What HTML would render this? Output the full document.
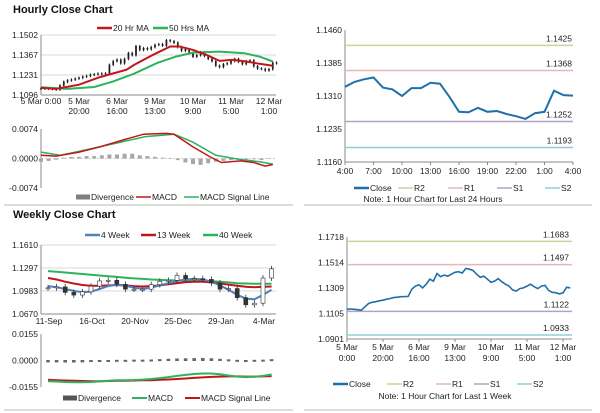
<!DOCTYPE html>
<html><head><meta charset="utf-8">
<style>
html,body{margin:0;padding:0;background:#fff;}
svg{display:block;font-family:"Liberation Sans",Arial,sans-serif;}
.t{font-size:8.5px;fill:#222;}
.ttl{font-size:11px;font-weight:bold;fill:#111;}
</style></head>
<body>
<svg id="c" width="600" height="413" viewBox="0 0 600 413" xmlns="http://www.w3.org/2000/svg">
<text x="13" y="13" class="ttl">Hourly Close Chart</text>
<text x="13" y="218" class="ttl">Weekly Close Chart</text>
<line x1="4" y1="205" x2="293" y2="205" stroke="#bbb"/>
<line x1="304" y1="205" x2="592" y2="205" stroke="#bbb"/>
<line x1="4" y1="410" x2="293" y2="410" stroke="#bbb"/>
<line x1="304" y1="410" x2="592" y2="410" stroke="#bbb"/>
</svg>
<script>
// ---- hourly week data (2-hour steps, hour index 0..124) ----
const weekHourStep = 2;
const weekClose = [1.1140,1.1141,1.1139,1.1136,1.1132,1.1160,1.1185,1.1195,1.1200,1.1207,1.1212,1.1220,1.1225,1.1233,1.1236,1.1240,1.1241,1.1242,1.1300,1.1325,1.1335,1.1310,1.1340,1.1380,1.1365,1.1426,1.1400,1.1413,1.1405,1.1420,1.1435,1.1440,1.1430,1.1466,1.1460,1.1450,1.1420,1.1395,1.1405,1.1380,1.1355,1.1365,1.1385,1.1360,1.1340,1.1325,1.1294,1.1285,1.1305,1.1310,1.1325,1.1340,1.1320,1.1305,1.1325,1.1330,1.1290,1.1275,1.1272,1.1262,1.1270,1.1315,1.1310];
const weekTickHours = [0,20,40,60,80,100,120];
const weekTickLabels = [["5 Mar","0:00"],["5 Mar","20:00"],["6 Mar","16:00"],["9 Mar","13:00"],["10 Mar","9:00"],["11 Mar","5:00"],["12 Mar","1:00"]];
const ma20Hours = [0,8,20,31,45,49,59,68,73,80,87,94,101,108,115,122];
const ma20Vals = [1.1144,1.1137,1.1166,1.1217,1.1267,1.1300,1.1368,1.1424,1.1424,1.1401,1.1368,1.1327,1.1334,1.1323,1.1307,1.1294];
const ma50Hours = [0,14,28,38,49,61,71,80,94,107,115,122];
const ma50Vals = [1.1148,1.1137,1.1150,1.1188,1.1240,1.1312,1.1356,1.1383,1.1390,1.1379,1.1356,1.1323];
const macdHours = [0,8,20,31,45,54,66,70,80,89,95,105,112,118,122];
const macdVals = [0.0008,0.0006,0.0016,0.0029,0.0049,0.0061,0.0063,0.0061,0.0029,0.0004,-0.0010,-0.0006,-0.0010,-0.0019,-0.0015];
const sigHours = [0,10,24,40,55,70,80,92,104,115,122];
const sigVals = [0.0016,0.0008,0.0022,0.0039,0.0055,0.0061,0.0041,0.0008,-0.0002,-0.0008,-0.0014];
const divHours = [0,4,8,12,16,20,24,28,32,36,40,44,48,52,56,60,64,68,72,76,80,84,88,92,96,100,104,108,112,116,120];
const divVals = [-0.0008,-0.0006,-0.0003,0.0002,0.0004,0.0004,0.0006,0.0006,0.0008,0.0010,0.0010,0.0012,0.0012,0.0008,0.0006,0.0004,0.0002,0.0000,-0.0004,-0.0010,-0.0014,-0.0016,-0.0012,-0.0008,-0.0006,-0.0004,-0.0003,-0.0002,-0.0002,-0.0004,-0.0001];
const hourTicks = [1.1502,1.1367,1.1231,1.1096];
const hourMacdTicks = [0.0074,0.0000,-0.0074];

// ---- last 24h ----
const dayClose = [1.1331,1.1342,1.1348,1.1352,1.1329,1.1325,1.1310,1.1328,1.1328,1.1340,1.1338,1.1308,1.1274,1.1273,1.1283,1.1274,1.1276,1.1269,1.1264,1.1258,1.1271,1.1274,1.1322,1.1312,1.1311];
const dayTickLabels = ["4:00","7:00","10:00","13:00","16:00","19:00","22:00","1:00","4:00"];
const dayTicks = [1.1460,1.1385,1.1310,1.1235,1.1160];
const dayLevels = [1.1425,1.1368,1.1252,1.1193];
const weekLevels = [1.1683,1.1497,1.1122,1.0933];
const weekTicks = [1.1718,1.1514,1.1309,1.1105,1.0901];
const levelNames = ["R2","R1","S1","S2"];

// ---- weekly ----
const wkLabels = ["11-Sep","16-Oct","20-Nov","25-Dec","29-Jan","4-Mar"];
const wkLabelIdx = [0,5,10,15,20,25];
const wkClose = [1.1026,1.1040,1.0964,1.0928,1.0973,1.1049,1.1120,1.1129,1.1075,1.1008,1.1008,1.1008,1.1070,1.1116,1.1129,1.1196,1.1151,1.1151,1.1142,1.1093,1.1008,1.1017,1.0893,1.0795,1.0817,1.1160,1.1285];
const wk4 = [1.1050,1.1035,1.1010,1.0985,1.0965,1.0975,1.1010,1.1050,1.1070,1.1055,1.1030,1.1010,1.1030,1.1060,1.1090,1.1120,1.1140,1.1150,1.1140,1.1110,1.1060,1.1000,1.0930,1.0880,1.0870,1.0930,1.1000];
const wk13 = [1.1160,1.1140,1.1110,1.1085,1.1065,1.1055,1.1055,1.1060,1.1065,1.1060,1.1050,1.1045,1.1050,1.1060,1.1075,1.1090,1.1105,1.1110,1.1110,1.1100,1.1085,1.1070,1.1055,1.1040,1.1035,1.1040,1.1045];
const wk40 = [1.1255,1.1245,1.1235,1.1225,1.1215,1.1205,1.1195,1.1185,1.1175,1.1165,1.1155,1.1148,1.1140,1.1135,1.1130,1.1128,1.1125,1.1122,1.1120,1.1118,1.1110,1.1100,1.1090,1.1085,1.1082,1.1082,1.1082];
const wkMacd = [-0.0121,-0.0123,-0.0126,-0.0127,-0.0127,-0.0126,-0.0122,-0.0118,-0.0116,-0.0115,-0.0114,-0.0112,-0.0108,-0.0103,-0.0097,-0.0090,-0.0084,-0.0079,-0.0076,-0.0076,-0.0080,-0.0088,-0.0094,-0.0097,-0.0095,-0.0090,-0.0082];
const wkSig = [-0.0113,-0.0115,-0.0117,-0.0119,-0.0120,-0.0121,-0.0121,-0.0120,-0.0119,-0.0118,-0.0117,-0.0116,-0.0115,-0.0113,-0.0111,-0.0108,-0.0105,-0.0102,-0.0099,-0.0096,-0.0094,-0.0093,-0.0093,-0.0094,-0.0094,-0.0093,-0.0091];
const wkDiv = [-0.0008,-0.0008,-0.0009,-0.0009,-0.0008,-0.0006,-0.0003,-0.0001,0.0001,0.0001,0.0002,0.0002,0.0003,0.0005,0.0007,0.0009,0.0010,0.0011,0.0012,0.0010,0.0007,0.0004,0.0001,-0.0001,0.0001,0.0002,0.0005];
const wkTicks = [1.1610,1.1297,1.0983,1.0670];
const wkMacdTicks = [0.0155,0.0000,-0.0155];

const svg = document.getElementById('c');
const NS = 'http://www.w3.org/2000/svg';
function mk(tag, attrs, name, parent){
  const e = document.createElementNS(NS, tag);
  for (const k in attrs) e.setAttribute(k, attrs[k]);
  
  
  (parent||svg).appendChild(e);
  return e;
}
function txt(x,y,s,anchor,name,size){
  const e = mk('text',{x:x,y:y,'text-anchor':anchor||'start',class:'t'},name);
  if(size) e.setAttribute('font-size', size);
  e.textContent = s; return e;
}
function path(pts){ return pts.map((p,i)=>(i?'L':'M')+p[0].toFixed(1)+','+p[1].toFixed(1)).join(''); }
function legendLine(x,y,color,label,w,name){
  mk('line',{x1:x,y1:y,x2:x+15,y2:y,stroke:color,'stroke-width':w||2.5},name+'-swatch');
  txt(x+16,y+3,label,'start',name);
}
function legendBox(x,y,color,label,name){
  mk('rect',{x:x,y:y-2.5,width:14,height:5,fill:color},name+'-swatch');
  txt(x+15,y+3,label,'start',name);
}
const lvlColors = ["#c3d69b","#e6b9b8","#b3a2c7","#93cddd"];

// ================= Panel 1: hourly price =================
(function(){
  const L=41,R=276,T=35,B=95, vmax=1.1502, vmin=1.1096;
  const x = h => L + h*1.9;
  const y = v => T + (vmax-v)/(vmax-vmin)*(B-T);
  hourTicks.forEach((t,i)=>{
    mk('line',{x1:L,y1:y(t),x2:R,y2:y(t),stroke:'#d9d9d9','stroke-width':1},'gridline-'+i);
    txt(L-3,y(t)+3,t.toFixed(4),'end','y-tick-label');
  });
  mk('line',{x1:L,y1:T,x2:L,y2:B,stroke:'#888'},'y-axis');
  mk('line',{x1:L,y1:B,x2:R,y2:B,stroke:'#888'},'x-axis');
  weekTickHours.forEach((h,i)=>{
    const lb=weekTickLabels[i];
    if(i===0){ txt(x(h),104,lb[0]+' '+lb[1],'middle','x-tick-label'); }
    else { txt(x(h),104,lb[0],'middle','x-tick-label'); txt(x(h),114,lb[1],'middle','x-tick-label'); }
  });
  const g = mk('g',{},'candles');
  weekClose.forEach((c,i)=>{
    const o = i? weekClose[i-1] : c;
    const xx = x(i*weekHourStep);
    const hi = Math.max(o,c)+0.0009, lo = Math.min(o,c)-0.0009;
    mk('line',{x1:xx,y1:y(hi),x2:xx,y2:y(lo),stroke:'#111','stroke-width':0.9},'candle-wick',g);
    mk('rect',{x:xx-0.7,y:y(Math.max(o,c)),width:1.4,height:Math.max(0.8,Math.abs(y(o)-y(c))),fill:'#222',stroke:'#111','stroke-width':0.3},'candle-body',g);
  });
  mk('path',{d:path(ma50Hours.map((h,i)=>[x(h),y(ma50Vals[i])])),fill:'none',stroke:'#2db35d','stroke-width':2},'ma-50-line');
  mk('path',{d:path(ma20Hours.map((h,i)=>[x(h),y(ma20Vals[i])])),fill:'none',stroke:'#c0161c','stroke-width':2},'ma-20-line');
  legendLine(97,28,'#c0161c','20 Hr MA',2.5,'legend-20hr-ma');
  legendLine(153,28,'#2db35d','50 Hrs MA',2.5,'legend-50hr-ma');
})();

// ================= Panel 1b: hourly MACD =================
(function(){
  const L=41,R=276,T=129,B=188, vmax=0.0074;
  const x = h => L + h*1.9;
  const y = v => 158.5 - v/vmax*29.5;
  hourMacdTicks.forEach(t=>txt(L-3,y(t)+3,t.toFixed(4),'end','macd-y-tick'));
  mk('line',{x1:L,y1:T,x2:L,y2:B,stroke:'#888'},'macd-y-axis');
  mk('line',{x1:L,y1:y(0),x2:R,y2:y(0),stroke:'#ccc','stroke-dasharray':'2,2'},'macd-zero-line');
  const g = mk('g',{},'divergence-bars');
  divHours.forEach((h,i)=>{
    const v=divVals[i];
    mk('rect',{x:x(h)-2,y:Math.min(y(0),y(v)),width:4,height:Math.max(0.5,Math.abs(y(v)-y(0))),fill:'#a6a6a6'},'divergence-bar',g);
  });
  mk('path',{d:path(sigHours.map((h,i)=>[x(h),y(sigVals[i])])),fill:'none',stroke:'#2db35d','stroke-width':1.5},'macd-signal-line');
  mk('path',{d:path(macdHours.map((h,i)=>[x(h),y(macdVals[i])])),fill:'none',stroke:'#c0161c','stroke-width':1.5},'macd-line');
  legendBox(76,197,'#7f7f7f','Divergence','legend-divergence');
  legendLine(136,197,'#c0161c','MACD',1.5,'legend-macd');
  legendLine(184,197,'#2db35d','MACD Signal Line',1.5,'legend-macd-signal');
})();

// ================= Panel 2: last 24h =================
(function(){
  const L=345,R=573,T=30,B=162, vmax=1.1460, vmin=1.1160;
  const x = i => L + i*(R-L)/24;
  const y = v => T + (vmax-v)/(vmax-vmin)*(B-T);
  dayTicks.forEach(t=>txt(L-3,y(t)+3,t.toFixed(4),'end','day-y-tick'));
  mk('line',{x1:L,y1:T,x2:L,y2:B,stroke:'#888'},'day-y-axis');
  mk('line',{x1:L,y1:B,x2:R,y2:B,stroke:'#888'},'day-x-axis');
  dayTickLabels.forEach((s,i)=>{
    const xx = x(i*3);
    mk('line',{x1:xx,y1:B,x2:xx,y2:B+3,stroke:'#888'},'day-x-tick');
    txt(xx,174,s,'middle','day-x-tick-label');
  });
  dayLevels.forEach((v,i)=>{
    mk('line',{x1:L,y1:y(v),x2:R,y2:y(v),stroke:lvlColors[i],'stroke-width':1.5},'level-'+levelNames[i].toLowerCase());
    txt(R-1,y(v)-4,v.toFixed(4),'end','level-label-'+levelNames[i].toLowerCase(),'9px');
  });
  mk('path',{d:path(dayClose.map((v,i)=>[x(i),y(v)])),fill:'none',stroke:'#1f6fa8','stroke-width':2},'close-line');
  legendLine(354,188,'#1f6fa8','Close',2.5,'legend-close');
  ['R2','R1','S1','S2'].forEach((n,i)=>legendLine([398,448,497,545][i],188,lvlColors[i],n,1.5,'legend-'+n.toLowerCase()));
  txt(433,202,'Note: 1 Hour Chart for Last 24 Hours','middle','day-note');
})();

// ================= Panel 3: weekly price =================
(function(){
  const L=41,R=276,T=245,B=314, vmax=1.1610, vmin=1.0670;
  const x = i => 48 + i*8.6;
  const y = v => T + (vmax-v)/(vmax-vmin)*(B-T);
  wkTicks.forEach((t,i)=>{
    mk('line',{x1:L,y1:y(t),x2:R,y2:y(t),stroke:'#d9d9d9'},'wk-gridline-'+i);
    txt(L-3,y(t)+3,t.toFixed(4),'end','wk-y-tick');
  });
  mk('line',{x1:L,y1:T,x2:L,y2:B,stroke:'#888'},'wk-y-axis');
  mk('line',{x1:L,y1:B,x2:R,y2:B,stroke:'#888'},'wk-x-axis');
  wkLabelIdx.forEach((idx,i)=>txt(x(idx)+1,324,wkLabels[i],'middle','wk-x-tick-label'));
  mk('path',{d:path(wk40.map((v,i)=>[x(i),y(v)])),fill:'none',stroke:'#2db35d','stroke-width':2},'wk-40-line');
  mk('path',{d:path(wk13.map((v,i)=>[x(i),y(v)])),fill:'none',stroke:'#c0161c','stroke-width':2},'wk-13-line');
  mk('path',{d:path(wk4.map((v,i)=>[x(i),y(v)])),fill:'none',stroke:'#4f81bd','stroke-width':2},'wk-4-line');
  const g = mk('g',{},'wk-candles');
  wkClose.forEach((c,i)=>{
    const o = i? wkClose[i-1] : c;
    const xx = x(i);
    const hi = Math.max(o,c)+0.004, lo = Math.min(o,c)-0.004;
    mk('line',{x1:xx,y1:y(hi),x2:xx,y2:y(lo),stroke:'#333','stroke-width':0.8},'wk-candle-wick',g);
    mk('rect',{x:xx-2,y:y(Math.max(o,c)),width:4,height:Math.max(1,Math.abs(y(o)-y(c))),fill:c>=o?'#fff':'#333',stroke:'#333','stroke-width':0.6},'wk-candle-body',g);
  });
  legendLine(85,235,'#4f81bd','4 Week',2.5,'legend-4-week');
  legendLine(141,235,'#c0161c','13 Week',2.5,'legend-13-week');
  legendLine(203,235,'#2db35d','40 Week',2.5,'legend-40-week');
})();

// ================= Panel 3b: weekly MACD =================
(function(){
  const L=41,R=276,T=334,B=387, vmax=0.0155;
  const x = i => 48 + i*8.6;
  const y = v => 360.5 - v/vmax*26.5;
  wkMacdTicks.forEach(t=>txt(L-3,y(t)+3,t.toFixed(4),'end','wk-macd-y-tick'));
  mk('line',{x1:L,y1:T,x2:L,y2:B,stroke:'#888'},'wk-macd-y-axis');
  const g = mk('g',{},'wk-divergence-bars');
  wkDiv.forEach((v,i)=>{
    mk('rect',{x:x(i)-1.8,y:Math.min(y(0),y(v))-0.5,width:3.6,height:Math.max(2,Math.abs(y(v)-y(0))+1),fill:'#666'},'wk-divergence-bar',g);
  });
  mk('path',{d:path(wkSig.map((v,i)=>[x(i),y(v)])),fill:'none',stroke:'#c0161c','stroke-width':2},'wk-macd-signal-line');
  mk('path',{d:path(wkMacd.map((v,i)=>[x(i),y(v)])),fill:'none',stroke:'#2db35d','stroke-width':2},'wk-macd-line');
  legendBox(63,398,'#555','Divergence','legend-wk-divergence');
  legendLine(132,398,'#2db35d','MACD',2,'legend-wk-macd');
  legendLine(185,398,'#c0161c','MACD Signal Line',2,'legend-wk-macd-signal');
})();

// ================= Panel 4: 1 week hourly =================
(function(){
  const L=347,R=572,T=237,B=339, vmax=1.1718, vmin=1.0901;
  const x = h => L + h*1.8;
  const y = v => T + (vmax-v)/(vmax-vmin)*(B-T);
  weekTicks.forEach(t=>txt(L-3,y(t)+3,t.toFixed(4),'end','week-y-tick'));
  mk('line',{x1:L,y1:T,x2:L,y2:B,stroke:'#888'},'week-y-axis');
  mk('line',{x1:L,y1:B,x2:R,y2:B,stroke:'#888'},'week-x-axis');
  weekTickHours.forEach((h,i)=>{
    mk('line',{x1:x(h),y1:B,x2:x(h),y2:B+3,stroke:'#888'},'week-x-tick');
    txt(x(h),350,weekTickLabels[i][0],'middle','week-x-tick-label');
    txt(x(h),361,weekTickLabels[i][1],'middle','week-x-tick-label');
  });
  weekLevels.forEach((v,i)=>{
    mk('line',{x1:L,y1:y(v),x2:R,y2:y(v),stroke:lvlColors[i],'stroke-width':1.5},'week-level-'+levelNames[i].toLowerCase());
    txt(R-3,y(v)-4,v.toFixed(4),'end','week-level-label-'+levelNames[i].toLowerCase(),'9px');
  });
  mk('path',{d:path(weekClose.map((v,i)=>[x(i*weekHourStep),y(v)])),fill:'none',stroke:'#1f6fa8','stroke-width':1.6},'week-close-line');
  legendLine(333,384,'#1f6fa8','Close',2.5,'legend-week-close');
  ['R2','R1','S1','S2'].forEach((n,i)=>legendLine([387,436,474,517][i],384,lvlColors[i],n,1.5,'legend-week-'+n.toLowerCase()));
  txt(445,399,'Note: 1 Hour Chart for Last 1 Week','middle','week-note');
})();
</script>
</body></html>
